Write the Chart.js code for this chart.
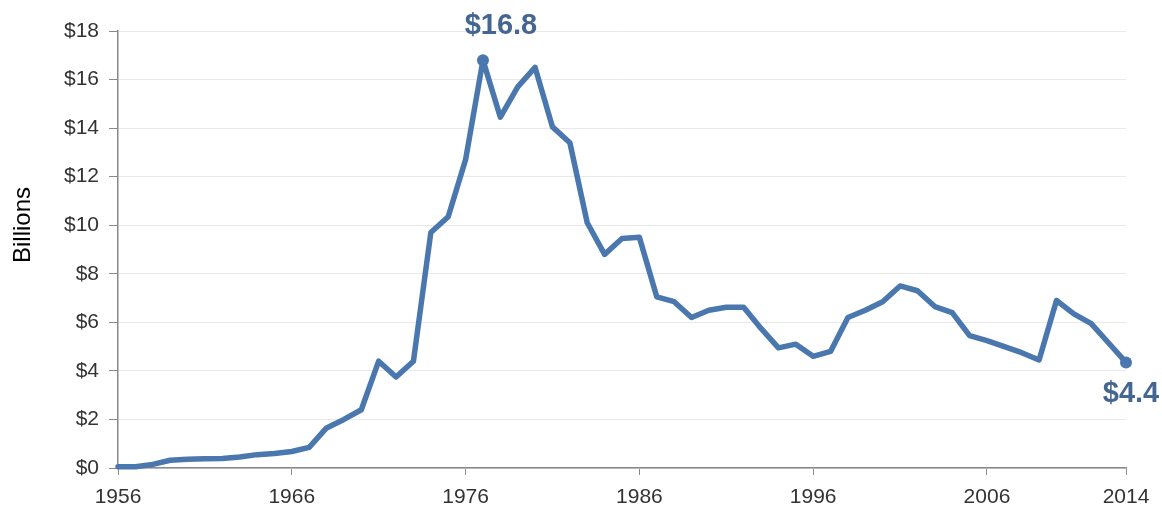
<!DOCTYPE html>
<html>
<head>
<meta charset="utf-8">
<script src="https://cdn.jsdelivr.net/npm/chart.js@4/dist/chart.umd.min.js"></script>
<style>
  body { margin: 0; background: #fff; }
  canvas { display: block; }
</style>
</head>
<body>
<canvas id="chart" width="1162" height="510"></canvas>
<script>
// data
const years = [
  1956, 1957, 1958, 1959, 1960, 1961, 1962, 1963, 1964, 1965,
  1966, 1967, 1968, 1969, 1970, 1971, 1972, 1973, 1974, 1975,
  1976, 1977, 1978, 1979, 1980, 1981, 1982, 1983, 1984, 1985,
  1986, 1987, 1988, 1989, 1990, 1991, 1992, 1993, 1994, 1995,
  1996, 1997, 1998, 1999, 2000, 2001, 2002, 2003, 2004, 2005,
  2006, 2007, 2008, 2009, 2010, 2011, 2012, 2013, 2014
];
const billions = [
  0.05, 0.05, 0.15, 0.32, 0.36, 0.38, 0.39, 0.45, 0.55, 0.6,
  0.68, 0.85, 1.65, 2.0, 2.4, 4.4, 3.75, 4.4, 9.7, 10.35,
  12.7, 16.8, 14.45, 15.7, 16.5, 14.05, 13.4, 10.1, 8.8, 9.45,
  9.5, 7.05, 6.85, 6.2, 6.5, 6.62, 6.62, 5.75, 4.95, 5.1,
  4.6, 4.8, 6.2, 6.5, 6.85, 7.5, 7.3, 6.65, 6.4, 5.45,
  5.25, 5.0, 4.75, 4.45, 6.9, 6.35, 5.95, 5.15, 4.35
];
const xTickYears = [1956, 1966, 1976, 1986, 1996, 2006, 2014];
const markedYears = [1977, 2014];
const markedText = ["$16.8", "$4.4"];
const yAxisTitle = "Billions";

const FONT = "'Liberation Sans', Arial, sans-serif";
const LINE = "#4a77ae";

// value labels next to the marked points + rotated axis title
const annotate = {
  id: "annotate",
  afterDatasetsDraw(chart) {
    const c = chart.ctx;
    const meta = chart.getDatasetMeta(0);
    const offsets = [[18, -34], [5, 32]];
    c.save();
    c.font = "bold 29px " + FONT;
    c.fillStyle = "#456690";
    c.textAlign = "center";
    c.textBaseline = "middle";
    markedYears.forEach((yr, k) => {
      const pt = meta.data[years.indexOf(yr)];
      c.fillText(markedText[k], pt.x + offsets[k][0], pt.y + offsets[k][1]);
    });
    c.translate(23, 225);
    c.rotate(-Math.PI / 2);
    c.font = "24px " + FONT;
    c.fillStyle = "#000";
    c.fillText(yAxisTitle, 0, 0);
    c.restore();
  }
};

new Chart(document.getElementById("chart"), {
  type: "line",
  data: {
    datasets: [{
      data: years.map((y, i) => ({ x: y, y: billions[i] })),
      borderColor: LINE,
      backgroundColor: LINE,
      borderWidth: 5.5,
      borderJoinStyle: "round",
      borderCapStyle: "round",
      tension: 0,
      clip: false,
      pointRadius: ctx => markedYears.includes(years[ctx.dataIndex]) ? 6 : 0,
      pointBackgroundColor: LINE,
      pointBorderWidth: 0
    }]
  },
  options: {
    responsive: false,
    animation: false,
    layout: { padding: { top: 31, right: 36, left: 0, bottom: 0 } },
    plugins: {
      legend: { display: false },
      tooltip: { enabled: false }
    },
    scales: {
      x: {
        type: "linear",
        min: 1956,
        max: 2014,
        afterBuildTicks: s => { s.ticks = xTickYears.map(v => ({ value: v })); },
        afterFit: s => { s.height = 42; },
        ticks: {
          callback: v => String(v),
          font: { size: 21, family: FONT },
          color: "#333",
          maxRotation: 0,
          autoSkip: false,
          padding: 10
        },
        grid: { drawOnChartArea: false, tickLength: 7, tickColor: "#888" },
        border: { color: "#888", width: 1.5 }
      },
      y: {
        min: 0,
        max: 18,
        afterFit: s => { s.width = 118; },
        ticks: {
          stepSize: 2,
          callback: v => "$" + v,
          font: { size: 21, family: FONT },
          color: "#333",
          padding: 10
        },
        grid: { color: "#e9e9e9", tickLength: 9, tickColor: "#888" },
        border: { color: "#888", width: 1.5 }
      }
    }
  },
  plugins: [annotate]
});
</script>
</body>
</html>
